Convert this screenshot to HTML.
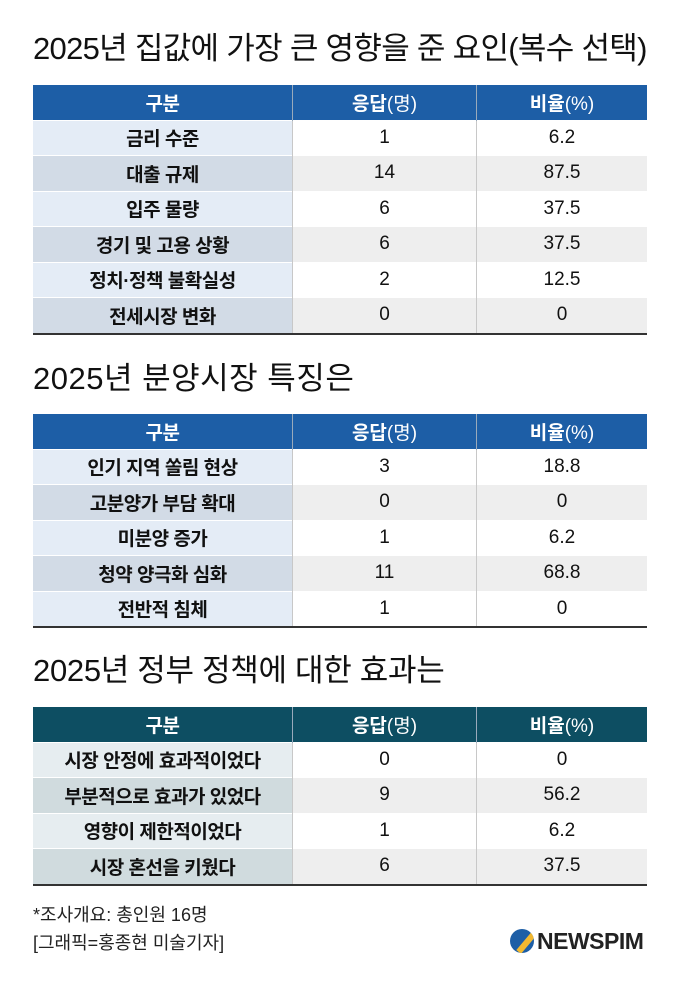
<!DOCTYPE html>
<html><head><meta charset="utf-8"><style>
body{margin:0;width:680px;height:981px;background:#fff;font-family:"Liberation Sans","Noto Sans CJK KR",sans-serif;color:#111;position:relative;overflow:hidden}
.t{position:absolute;left:33px;font-size:31px;letter-spacing:-0.7px;color:#111;line-height:1;white-space:nowrap}
table{position:absolute;left:33px;width:614px;border-collapse:collapse;font-size:19px}
td,th{height:34.5px;padding:0;text-align:center;vertical-align:middle;border-left:1.5px solid #c8c8c8}
td:first-child,th:first-child{border-left:none;width:259px;font-weight:bold;letter-spacing:-0.5px}
td:nth-child(2),th:nth-child(2){width:183px}
th{color:#fff;font-weight:bold;border-left:1.5px solid #9ab}
th span{font-weight:normal}
tr{border-bottom:1px solid #fff}
table{border-bottom:2px solid #333}
.b th{background:#1d5ea6}
.g th{background:#0d4e62}
.b tr:nth-child(even) td:first-child{background:#e4ecf6}
.b tr:nth-child(odd) td:first-child{background:#d2dbe6}
.g tr:nth-child(even) td:first-child{background:#e6edf0}
.g tr:nth-child(odd) td:first-child{background:#d0dbde}
tr:nth-child(odd) td{background:#eeeeee}
.f{position:absolute;left:33px;font-size:18px;color:#222}
</style></head><body>
<div class="t" style="top:33px">2025년 집값에 가장 큰 영향을 준 요인(복수 선택)</div>
<table class="b" style="top:85px">
<tr><th>구분</th><th>응답<span>(명)</span></th><th>비율<span>(%)</span></th></tr>
<tr><td>금리 수준</td><td>1</td><td>6.2</td></tr>
<tr><td>대출 규제</td><td>14</td><td>87.5</td></tr>
<tr><td>입주 물량</td><td>6</td><td>37.5</td></tr>
<tr><td>경기 및 고용 상황</td><td>6</td><td>37.5</td></tr>
<tr><td>정치·정책 불확실성</td><td>2</td><td>12.5</td></tr>
<tr><td>전세시장 변화</td><td>0</td><td>0</td></tr>
</table>
<div class="t" style="top:363px;letter-spacing:0.5px">2025년 분양시장 특징은</div>
<table class="b" style="top:414px">
<tr><th>구분</th><th>응답<span>(명)</span></th><th>비율<span>(%)</span></th></tr>
<tr><td>인기 지역 쏠림 현상</td><td>3</td><td>18.8</td></tr>
<tr><td>고분양가 부담 확대</td><td>0</td><td>0</td></tr>
<tr><td>미분양 증가</td><td>1</td><td>6.2</td></tr>
<tr><td>청약 양극화 심화</td><td>11</td><td>68.8</td></tr>
<tr><td>전반적 침체</td><td>1</td><td>0</td></tr>
</table>
<div class="t" style="top:655px;letter-spacing:-0.3px">2025년 정부 정책에 대한 효과는</div>
<table class="g" style="top:707px">
<tr><th>구분</th><th>응답<span>(명)</span></th><th>비율<span>(%)</span></th></tr>
<tr><td>시장 안정에 효과적이었다</td><td>0</td><td>0</td></tr>
<tr><td>부분적으로 효과가 있었다</td><td>9</td><td>56.2</td></tr>
<tr><td>영향이 제한적이었다</td><td>1</td><td>6.2</td></tr>
<tr><td>시장 혼선을 키웠다</td><td>6</td><td>37.5</td></tr>
</table>
<div class="f" style="top:901px">*조사개요: 총인원 16명</div>
<div class="f" style="top:929px">[그래픽=홍종현 미술기자]</div>
<div style="position:absolute;left:510px;top:929px;width:24px;height:24px;border-radius:50%;background:#1d5ea6;overflow:hidden"><div style="position:absolute;left:4px;top:10px;width:26px;height:6px;background:#f2b830;transform:rotate(-50deg)"></div></div>
<div style="position:absolute;left:537px;top:928px;font-size:23px;font-weight:bold;color:#222;letter-spacing:-0.5px">NEWSPIM</div>
</body></html>
